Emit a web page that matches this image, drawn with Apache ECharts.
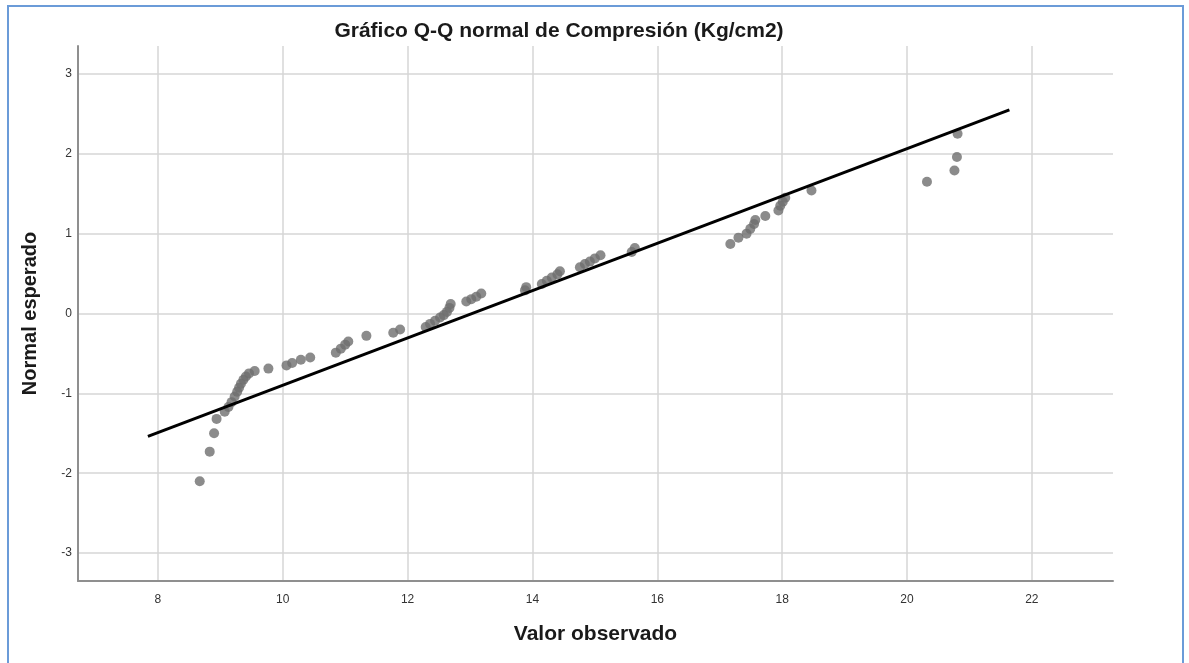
<!DOCTYPE html>
<html>
<head>
<meta charset="utf-8">
<title>Gráfico Q-Q normal de Compresión</title>
<script src="https://cdn.jsdelivr.net/npm/echarts@6/dist/echarts.min.js"></script>
<style>
  html, body { margin: 0; padding: 0; background: #ffffff; }
  #chart { width: 1189px; height: 663px; }
</style>
</head>
<body>
<div id="chart"></div>
<script>
// Observed compression values (Kg/cm2), sorted ascending
const observed = [
  8.67, 8.83, 8.90, 8.94, 9.07, 9.13, 9.18, 9.23, 9.27, 9.30,
  9.33, 9.37, 9.41, 9.46, 9.55, 9.77, 10.06, 10.15, 10.29, 10.44,
  10.85, 10.93, 11.00, 11.05, 11.34, 11.77, 11.88, 12.29, 12.36, 12.44,
  12.52, 12.58, 12.63, 12.67, 12.69, 12.94, 13.02, 13.10, 13.18, 13.88,
  13.90, 14.15, 14.23, 14.31, 14.40, 14.44, 14.76, 14.84, 14.92, 15.00,
  15.09, 15.59, 15.64, 17.17, 17.30, 17.43, 17.49, 17.55, 17.57, 17.73,
  17.94, 17.97, 18.01, 18.05, 18.47, 20.32, 20.76, 20.80, 20.81
];

// Expected normal quantiles for each observed value
const expected = [
  -2.10, -1.73, -1.50, -1.32, -1.23, -1.17, -1.11, -1.04, -0.98, -0.93,
  -0.88, -0.83, -0.79, -0.75, -0.72, -0.69, -0.65, -0.62, -0.58, -0.55,
  -0.49, -0.44, -0.39, -0.35, -0.28, -0.24, -0.20, -0.17, -0.13, -0.09,
  -0.05, -0.02, 0.02, 0.07, 0.12, 0.15, 0.18, 0.21, 0.25, 0.29,
  0.33, 0.37, 0.41, 0.45, 0.49, 0.53, 0.58, 0.62, 0.65, 0.69,
  0.73, 0.77, 0.82, 0.87, 0.95, 1.00, 1.06, 1.12, 1.17, 1.22,
  1.29, 1.35, 1.40, 1.45, 1.54, 1.65, 1.79, 1.96, 2.25
];

// Reference line endpoints (observed, expected)
const refLineX = [7.84, 21.64];
const refLineY = [-1.54, 2.55];

// Tick labels
const xTicks = [8, 10, 12, 14, 16, 18, 20, 22];
const yTicks = [-3, -2, -1, 0, 1, 2, 3];

const chartTitle = 'Gráfico Q-Q normal de Compresión (Kg/cm2)';
const xName = 'Valor observado';
const yName = 'Normal esperado';

const points = observed.map((v, i) => [v, expected[i]]);
const refLine = refLineX.map((v, i) => [v, refLineY[i]]);

const chart = echarts.init(document.getElementById('chart'), null, { renderer: 'canvas' });

const fontFamily = 'Arial, "Liberation Sans", sans-serif';

chart.setOption({
  animation: false,
  backgroundColor: '#ffffff',
  grid: { left: 78, right: 76, top: 46, bottom: 82 },
  graphic: [
    {
      type: 'rect',
      shape: { x: 8, y: 6, width: 1175, height: 700 },
      style: { fill: 'none', stroke: '#6b9bd8', lineWidth: 2 },
      silent: true
    },
    {
      type: 'text',
      x: 559,
      y: 31,
      style: {
        text: chartTitle,
        fill: '#1a1a1a',
        font: 'bold 21px ' + fontFamily,
        textAlign: 'center',
        textVerticalAlign: 'middle'
      },
      silent: true
    }
  ],
  xAxis: {
    type: 'value',
    min: 6.72,
    max: 23.3,
    name: xName,
    nameLocation: 'middle',
    nameGap: 43,
    nameTextStyle: { fontFamily, fontSize: 21, fontWeight: 'bold', color: '#1a1a1a' },
    axisLine: { show: true, onZero: false, lineStyle: { color: '#8f8f8f', width: 2 } },
    axisTick: { show: false, customValues: xTicks },
    axisLabel: { customValues: xTicks, margin: 13, fontFamily, fontSize: 12, color: '#333333' },
    splitLine: { show: true, lineStyle: { color: '#d6d6d6', width: 1.5 } }
  },
  yAxis: {
    type: 'value',
    min: -3.35,
    max: 3.35,
    name: yName,
    nameLocation: 'middle',
    nameRotate: 90,
    nameGap: 38,
    nameTextStyle: { fontFamily, fontSize: 20, fontWeight: 'bold', color: '#1a1a1a' },
    axisLine: { show: true, onZero: false, lineStyle: { color: '#8f8f8f', width: 2 } },
    axisTick: { show: false, customValues: yTicks },
    axisLabel: { customValues: yTicks, margin: 6, fontFamily, fontSize: 12, color: '#333333' },
    splitLine: { show: true, lineStyle: { color: '#d6d6d6', width: 1.5 } }
  },
  series: [
    {
      type: 'scatter',
      data: points,
      symbol: 'circle',
      symbolSize: 10,
      itemStyle: { color: '#6e6e6e' },
      z: 2
    },
    {
      type: 'line',
      data: refLine,
      symbol: 'none',
      lineStyle: { color: '#000000', width: 3 },
      z: 3
    }
  ]
});
</script>
</body>
</html>
